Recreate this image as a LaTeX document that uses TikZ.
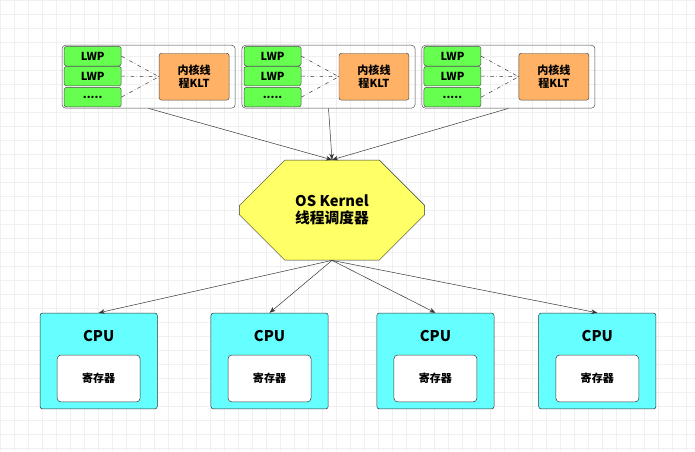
\documentclass[tikz,border=0pt]{standalone}
\usepackage{fontspec}
\setmainfont{Noto Sans CJK SC}
\usetikzlibrary{shapes.misc,arrows.meta}
\definecolor{lwpgreen}{RGB}{102,255,80}
\definecolor{kltorange}{RGB}{255,178,102}
\definecolor{cpucyan}{RGB}{102,255,255}
\definecolor{osyellow}{RGB}{255,255,102}
\tikzset{
  lwp/.style={draw=black!70, fill=lwpgreen, rounded corners=2pt, minimum width=1.63cm, minimum height=0.56cm, font=\bfseries\small},
  klt/.style={draw=black!70, fill=kltorange, rounded corners=2pt, minimum width=2cm, minimum height=1.34cm, align=center, font=\bfseries\small},
  grp/.style={draw=black!70, rounded corners=3pt, minimum width=4.95cm, minimum height=1.8cm},
  cpu/.style={draw=black!80, fill=cpucyan, rounded corners=2pt, minimum width=3.35cm, minimum height=2.74cm},
  reg/.style={draw=black!80, fill=white, rounded corners=3pt, minimum width=2.37cm, minimum height=1.34cm, font=\bfseries\small},
  link/.style={-{Stealth[length=5pt]}, black!80},
}
\begin{document}
\begin{tikzpicture}[x=0.02857cm, y=-0.02857cm]
\fill[white] (0,0) rectangle (695,451);
\draw[black!6, step=0.4cm] (0,0) grid (695,451);
\foreach \i/\x in {1/62, 2/242, 3/422} {
  \node[grp] (g\i) at (\x+86.5,76.5) {};
  \node[lwp] (a\i) at (\x+30.5,56) {LWP};
  \node[lwp] (b\i) at (\x+30.5,76) {LWP};
  \node[lwp] (c\i) at (\x+30.5,97) {.....};
  \node[klt] (k\i) at (\x+132,76.5) {内核线\\程KLT};
  \foreach \n in {a,b,c}
    \draw[dash dot, black!80] (\n\i.east) -- (k\i.west);
}
\node[draw=black!80, fill=osyellow, chamfered rectangle, chamfered rectangle xsep=0.71cm, chamfered rectangle ysep=0.86cm,
  minimum width=5.29cm, minimum height=2.86cm, inner sep=0pt, align=center, font=\bfseries\large] (os) at (332,210) {OS Kernel\\线程调度器};
\draw[link] (g1.south) -- (os.north);
\draw[link] (g2.south) -- (os.north);
\draw[link] (g3.south) -- (os.north);
\foreach \i/\x in {1/98.5, 2/269.5, 3/435.5, 4/597.5} {
  \node[cpu] (cpu\i) at (\x,361) {};
  \node[font=\bfseries\large] at (\x,336) {CPU};
  \node[reg] (r\i) at (\x,378.5) {寄存器};
  \draw[link] (os.south) -- (cpu\i.north);
}
\end{tikzpicture}
\end{document}
